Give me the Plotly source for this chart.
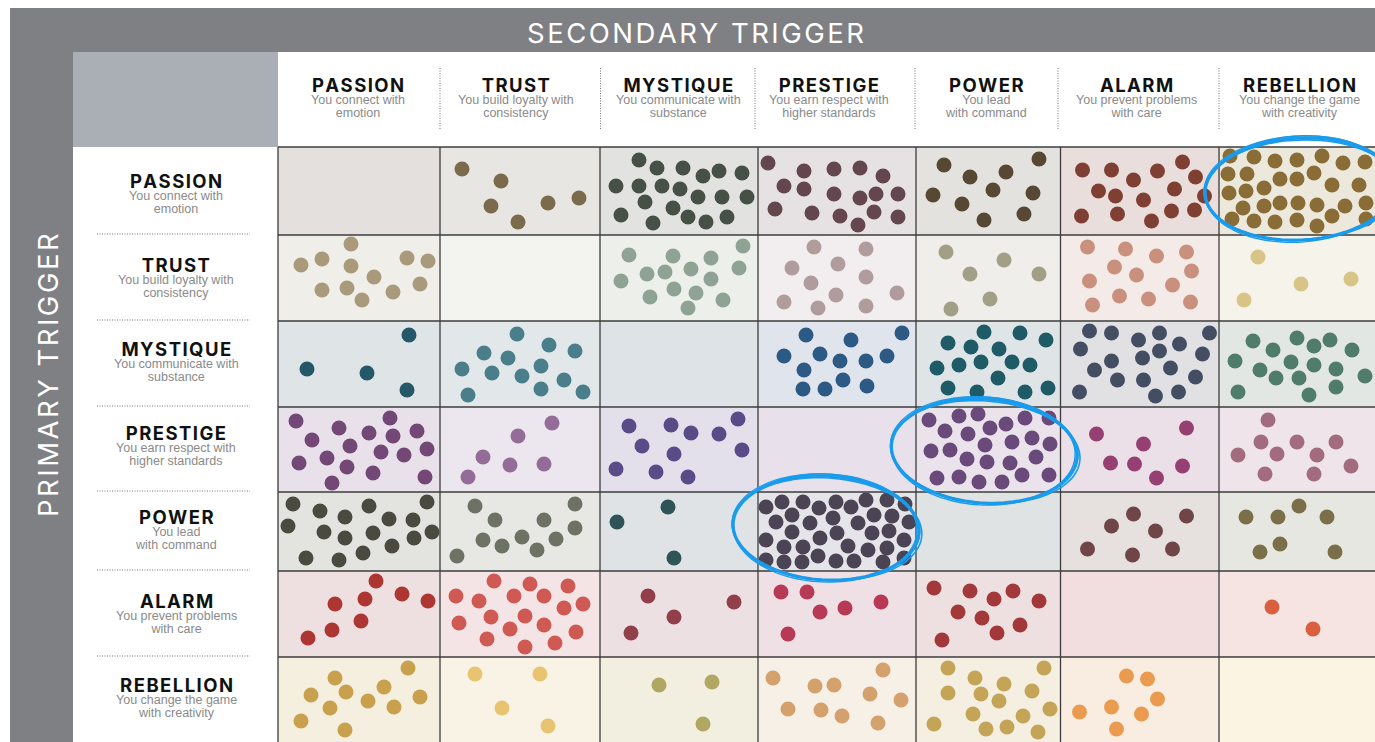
import numpy as np
import plotly.graph_objects as go

# ---------------- DATA ----------------
TRIGGERS = ["PASSION", "TRUST", "MYSTIQUE", "PRESTIGE", "POWER", "ALARM", "REBELLION"]
DESCRIPTIONS = [
    ("You connect with", "emotion"),
    ("You build loyalty with", "consistency"),
    ("You communicate with", "substance"),
    ("You earn respect with", "higher standards"),
    ("You lead", "with command"),
    ("You prevent problems", "with care"),
    ("You change the game", "with creativity"),
]
AXIS_TITLE_TOP = "SECONDARY TRIGGER"
AXIS_TITLE_LEFT = "PRIMARY TRIGGER"

# dot positions inside each cell (cell-local units, origin = cell top-left), one list per secondary trigger
DOTS_PASSION = [
    [],
    [(22, 22), (61, 34), (51, 59), (78, 75), (108, 56), (139, 51)],
    [(39, 13), (57, 21), (83, 21), (103, 29), (119, 24), (142, 26), (16, 39), (39, 39), (62, 39), (80, 42),
     (98, 50), (122, 50), (147, 50), (45, 55), (73, 61), (21, 68), (53, 76), (88, 70), (106, 75), (127, 70)],
    [(10, 16), (46, 24), (76, 22), (102, 21), (125, 29), (26, 39), (46, 42), (76, 47), (102, 51), (118, 47),
     (140, 47), (17, 62), (54, 66), (82, 69), (100, 78), (116, 65), (140, 70)],
    [(28, 18), (123, 12), (54, 30), (90, 25), (17, 48), (77, 43), (117, 46), (46, 57), (68, 73), (108, 67)],
    [(22, 23), (51, 23), (97, 24), (122, 15), (135, 30), (73, 33), (38, 44), (55, 49), (83, 53), (114, 42),
     (144, 49), (21, 69), (57, 67), (91, 74), (111, 64), (134, 63)],
    [(11, 9), (35, 10), (56, 14), (78, 13), (103, 9), (124, 16), (146, 15), (9, 27), (28, 27), (61, 32),
     (78, 32), (95, 26), (113, 38), (140, 38), (10, 46), (27, 44), (45, 41), (24, 61), (45, 59), (61, 56),
     (79, 56), (98, 58), (126, 59), (147, 56), (13, 72), (35, 74), (56, 75), (78, 73), (98, 79), (113, 69),
     (147, 72)],
]
DOTS_TRUST = [
    [(73, 9), (23, 30), (44, 24), (73, 31), (129, 23), (150, 26), (96, 42), (44, 55), (69, 53), (84, 65),
     (115, 57), (142, 49)],
    [],
    [(29, 20), (73, 21), (111, 23), (143, 11), (47, 39), (65, 37), (91, 34), (139, 33), (21, 46), (111, 44),
     (74, 54), (96, 58), (50, 62), (88, 73), (123, 65)],
    [(56, 12), (108, 14), (34, 33), (80, 29), (108, 42), (53, 48), (78, 60), (139, 58), (26, 67), (60, 73),
     (108, 71)],
    [(30, 17), (88, 25), (54, 39), (123, 39), (74, 64), (35, 74)],
    [(27, 12), (65, 14), (96, 21), (126, 17), (54, 32), (76, 40), (131, 36), (29, 46), (112, 50), (59, 61),
     (88, 64), (32, 70), (130, 67)],
    [(39, 22), (82, 49), (132, 44), (25, 65)],
]
DOTS_MYSTIQUE = [
    [(131, 14), (29, 48), (89, 52), (129, 69)],
    [(77, 13), (109, 24), (135, 30), (44, 32), (68, 37), (22, 48), (52, 52), (101, 45), (82, 55), (124, 59),
     (28, 74), (101, 68), (143, 71)],
    [],
    [(48, 14), (93, 19), (144, 12), (26, 35), (62, 33), (82, 40), (108, 40), (129, 35), (46, 49), (85, 59),
     (45, 68), (67, 68), (109, 65)],
    [(68, 11), (104, 12), (130, 19), (32, 22), (55, 26), (83, 28), (65, 41), (96, 41), (114, 44), (21, 47),
     (43, 44), (82, 57), (32, 67), (61, 71), (109, 71), (132, 67)],
    [(29, 10), (51, 12), (78, 19), (99, 12), (119, 23), (149, 12), (20, 28), (51, 40), (82, 37), (99, 30),
     (142, 33), (34, 49), (110, 47), (57, 59), (83, 59), (135, 56), (19, 71), (95, 75), (118, 71)],
    [(34, 20), (78, 17), (111, 19), (54, 29), (95, 25), (133, 29), (16, 40), (72, 41), (95, 44), (41, 49),
     (117, 48), (57, 57), (80, 57), (146, 55), (19, 71), (90, 74), (117, 66)],
]
DOTS_PRESTIGE = [
    [(18, 14), (112, 11), (61, 21), (91, 26), (139, 24), (34, 33), (115, 29), (72, 39), (149, 42), (49, 51),
     (103, 45), (126, 48), (21, 56), (69, 60), (95, 66), (54, 76), (147, 70)],
    [(112, 16), (78, 29), (43, 50), (70, 58), (104, 57), (28, 70)],
    [(29, 19), (71, 18), (91, 26), (119, 27), (138, 12), (42, 39), (74, 47), (142, 43), (16, 62), (56, 65),
     (88, 70)],
    [],
    [(13, 13), (43, 9), (62, 7), (90, 17), (109, 11), (133, 11), (29, 24), (52, 27), (74, 21), (96, 35),
     (116, 31), (134, 37), (15, 44), (34, 43), (69, 38), (51, 52), (71, 55), (94, 56), (120, 50), (21, 71),
     (43, 70), (63, 75), (86, 75), (106, 68), (133, 68)],
    [(36, 27), (126, 21), (83, 37), (50, 56), (74, 57), (122, 59), (96, 71)],
    [(49, 13), (42, 35), (78, 35), (117, 35), (19, 48), (58, 47), (98, 48), (132, 59), (46, 67), (95, 67)],
]
DOTS_POWER = [
    [(15, 12), (42, 19), (67, 25), (91, 14), (149, 10), (10, 34), (111, 27), (135, 28), (46, 40), (67, 46),
     (95, 41), (136, 46), (154, 40), (28, 66), (61, 68), (85, 61), (114, 54)],
    [(35, 14), (135, 12), (55, 28), (104, 28), (135, 36), (43, 48), (82, 45), (116, 47), (62, 54), (97, 58),
     (17, 64)],
    [(68, 15), (17, 30), (74, 66)],
    [(8, 15), (24, 10), (45, 10), (61, 16), (78, 10), (93, 15), (108, 8), (129, 8), (147, 12),
     (18, 30), (34, 23), (52, 31), (75, 26), (100, 31), (116, 23), (134, 24), (151, 30),
     (8, 48), (34, 40), (62, 46), (79, 41), (114, 41), (131, 39), (146, 48),
     (26, 55), (45, 55), (90, 54), (110, 58), (129, 56),
     (8, 68), (26, 70), (44, 70), (60, 64), (78, 69), (96, 69), (125, 70), (146, 66)],
    [],
    [(73, 22), (126, 24), (51, 34), (95, 39), (27, 57), (72, 63), (112, 57)],
    [(80, 14), (27, 25), (59, 25), (108, 25), (61, 52), (41, 60), (116, 60)],
]
DOTS_ALARM = [
    [(98, 10), (124, 23), (150, 30), (87, 28), (57, 33), (83, 50), (54, 59), (30, 67)],
    [(54, 10), (90, 13), (128, 15), (16, 25), (39, 30), (74, 25), (104, 25), (143, 33), (124, 37), (51, 46),
     (85, 45), (19, 52), (70, 58), (104, 54), (136, 61), (47, 68), (85, 76), (115, 72)],
    [(48, 25), (134, 31), (74, 46), (31, 62)],
    [(23, 21), (49, 21), (62, 41), (87, 37), (123, 31), (30, 63)],
    [(18, 17), (54, 20), (78, 28), (97, 20), (123, 30), (42, 41), (66, 47), (81, 62), (104, 54), (26, 69)],
    [],
    [(53, 36), (94, 58)],
]
DOTS_REBELLION = [
    [(130, 11), (57, 21), (106, 30), (33, 38), (68, 35), (142, 40), (90, 44), (52, 51), (116, 50), (23, 64),
     (67, 73)],
    [(35, 17), (100, 17), (62, 51), (108, 69)],
    [(59, 28), (112, 25), (103, 67)],
    [(15, 21), (125, 13), (57, 29), (76, 28), (112, 37), (143, 43), (30, 52), (63, 53), (84, 59), (120, 66)],
    [(32, 11), (128, 11), (59, 21), (88, 27), (32, 36), (65, 37), (116, 34), (83, 44), (57, 57), (107, 59),
     (134, 52), (18, 67), (70, 72), (91, 70), (122, 75)],
    [(66, 19), (87, 22), (97, 42), (51, 50), (81, 57), (19, 55), (56, 72)],
    [],
]
DOTS = [DOTS_PASSION, DOTS_TRUST, DOTS_MYSTIQUE, DOTS_PRESTIGE, DOTS_POWER, DOTS_ALARM, DOTS_REBELLION]

HIGHLIGHTED = [("PASSION", "REBELLION"), ("PRESTIGE", "POWER"), ("POWER", "PRESTIGE")]

# ---------------- STYLE ----------------
DOT_COLORS = [
    [None, "#7b6a4c", "#465046", "#64464f", "#564833", "#7f3f33", "#8a6d36"],
    ["#a99a7c", None, "#8fa394", "#b19c9d", "#a29f87", "#c9907d", "#d9c488"],
    ["#245869", "#4a7e8b", None, "#2d5a85", "#1e5b67", "#444e63", "#4f7d69"],
    ["#734776", "#946c97", "#594b87", None, "#694a7b", "#953f73", "#a26c7e"],
    ["#4a4a40", "#6d7265", "#2f5457", "#4b4455", None, "#6f4547", "#7b6f49"],
    ["#ae3632", "#cf5a53", "#923f4c", "#b83955", "#a3383a", None, "#d95f3e"],
    ["#c9a04d", "#e8c470", "#b0a763", "#d4a16c", "#c4a456", "#eb9b4f", None],
]
CELL_BG = [
    ["#e4e0dd", "#e8e6e2", "#e2e2e1", "#e6e1e2", "#e3e2df", "#e9dedb", "#ede8dc"],
    ["#efeee9", "#f3f4ef", "#edefeb", "#f2eeef", "#efeeea", "#f4ebe8", "#f6f4ea"],
    ["#dfe4e7", "#e2e7ea", "#dde3e6", "#e0e4ec", "#dfe4e7", "#e1e1e4", "#e3e7e4"],
    ["#e8e1ea", "#ece6ee", "#e4e0eb", "#e8e0ea", "#eae3ec", "#ebe0e7", "#eee4e9"],
    ["#e3e3e0", "#e7e8e4", "#dfe3e5", "#e5e4e8", "#e0e3e3", "#e6e0de", "#e7e7e1"],
    ["#eedfe1", "#f5e4e6", "#ede0e3", "#eee0e4", "#eee0e1", "#f3dedf", "#f6e4e2"],
    ["#f5efe0", "#f9f3e5", "#f2efe1", "#f6f0e7", "#f4efe1", "#f9ede1", "#fcf4e2"],
]
W, H = 1375, 742
COL_EDGES = [278, 440, 600, 758, 916, 1060.5, 1219, 1375]
ROW_EDGES = [147, 235, 321, 407, 492, 571, 657, 742]
HEADER_X = [358, 516, 678, 829, 986, 1136, 1299]
HEADER_SEP_X = [440, 600.5, 755, 915, 1058, 1219]
ROW_LABEL_X = 176
ROW_BLOCK_Y = [193, 277, 361, 445, 529, 613, 697]
HEADER_BLOCK_Y = 97
ELLIPSE_STYLE = {  # (dx, dy, rx, ry, rotation)
    ("PASSION", "REBELLION"): (3, -2, 95, 51, -3),
    ("PRESTIGE", "POWER"): (-4, 1.5, 93, 52, 4),
    ("POWER", "PRESTIGE"): (-11, -3.5, 93, 52, 3),
}
GREY = "#7f8084"
HEAD_FONT = "Inter"
SUB_FONT = "Liberation Sans"
HAIR = "\u200a"

fig = go.Figure()
shapes, annotations = [], []


def spaced(s):
    return HAIR.join(list(s))


def rect(x0, y0, x1, y1, color):
    shapes.append(dict(type="rect", xref="x", yref="y", x0=x0, y0=y0, x1=x1, y1=y1,
                       fillcolor=color, line=dict(width=0), layer="below"))


def line(x0, y0, x1, y1, color, width, dash="solid", layer="below"):
    shapes.append(dict(type="line", xref="x", yref="y", x0=x0, y0=y0, x1=x1, y1=y1,
                       line=dict(color=color, width=width, dash=dash), layer=layer))


rect(10, 8, W, H, GREY)
rect(73, 52, 278, 147, "#a9afb5")
rect(278, 52, W, 147, "#ffffff")
rect(73, 147, 278, H, "#ffffff")

for r in range(7):
    for c in range(7):
        rect(COL_EDGES[c], ROW_EDGES[r], COL_EDGES[c + 1], ROW_EDGES[r + 1], CELL_BG[r][c])

for x in COL_EDGES[:-1]:
    line(x, ROW_EDGES[0], x, H, "#3c3c3c", 1.3)
for y in ROW_EDGES[:-1]:
    line(COL_EDGES[0], y, W, y, "#3c3c3c", 1.3)

# dotted separators
for x in HEADER_SEP_X:
    line(x, 68, x, 130, "#777777", 1, dash="1px,1.5px")
for y in ROW_EDGES[1:-1]:
    line(97, y - 1, 250, y - 1, "#777777", 1, dash="1px,1.5px")

# dots
for r, row in enumerate(DOTS):
    for c, pts in enumerate(row):
        if not pts:
            continue
        xs = [COL_EDGES[c] + p[0] for p in pts]
        ys = [ROW_EDGES[r] + p[1] for p in pts]
        fig.add_trace(go.Scatter(
            x=xs, y=ys, mode="markers", hoverinfo="skip", showlegend=False,
            marker=dict(size=15, color=DOT_COLORS[r][c], line=dict(width=0)),
        ))


def ellipse_path(cx, cy, rx, ry, rot, n=120):
    t = np.linspace(0, 2 * np.pi, n)
    a = np.deg2rad(rot)
    ex, ey = rx * np.cos(t), ry * np.sin(t)
    xs = cx + ex * np.cos(a) - ey * np.sin(a)
    ys = cy + ex * np.sin(a) + ey * np.cos(a)
    return "M " + " L ".join(f"{x:.1f},{y:.1f}" for x, y in zip(xs, ys)) + " Z"


for prim, sec in HIGHLIGHTED:
    r, c = TRIGGERS.index(prim), TRIGGERS.index(sec)
    dx, dy, rx, ry, rot = ELLIPSE_STYLE[(prim, sec)]
    cx = (COL_EDGES[c] + COL_EDGES[c + 1]) / 2 + dx
    cy = (ROW_EDGES[r] + ROW_EDGES[r + 1]) / 2 + dy
    for ddx, ddy, drx, dry, drot, w in [(0, 0, 0, 0, 0, 3.2), (1, 1, 2, -1, 1, 1.6),
                                         (-1, 0, -1, 2, -1, 1.4), (0, -1, 1, 1, 0.5, 1.2)]:
        shapes.append(dict(type="path", xref="x", yref="y",
                           path=ellipse_path(cx + ddx, cy + ddy, rx + drx, ry + dry, rot + drot),
                           line=dict(color="#1a9bec", width=w), layer="above"))


def text(x, y, s, size, color, family, weight="normal", angle=0):
    annotations.append(dict(x=x, y=y, xref="x", yref="y", text=s, showarrow=False,
                            xanchor="center", yanchor="middle", textangle=angle,
                            font=dict(size=size, color=color, family=family, weight=weight)))


def label_block(name, desc):
    title = (f'<span style="font-family:{HEAD_FONT};font-size:18.5px;font-weight:700;'
             f'color:#111111">{spaced(name)}</span>')
    subs = [f'<span style="font-size:12.5px">{d}</span>' for d in desc]
    return "<br>".join([title] + subs)


text(695, 33, spaced(AXIS_TITLE_TOP), 27.5, "#ffffff", HEAD_FONT)
text(48, 375, spaced(AXIS_TITLE_LEFT), 27.5, "#ffffff", HEAD_FONT, angle=-90)

for i, name in enumerate(TRIGGERS):
    block = label_block(name, DESCRIPTIONS[i])
    text(HEADER_X[i], HEADER_BLOCK_Y, block, 9.6, "#8a8a8a", SUB_FONT)
    text(ROW_LABEL_X, ROW_BLOCK_Y[i], block, 9.6, "#8a8a8a", SUB_FONT)

fig.update_layout(
    width=W, height=H, margin=dict(l=0, r=0, t=0, b=0),
    paper_bgcolor="#ffffff", plot_bgcolor="#ffffff",
    xaxis=dict(range=[0, W], visible=False, fixedrange=True),
    yaxis=dict(range=[H, 0], visible=False, fixedrange=True),
    shapes=shapes, annotations=annotations, showlegend=False,
)
fig.write_html("out.html", config={"displayModeBar": False},
               post_script="document.body.style.margin='0px';document.body.style.overflow='hidden';")
